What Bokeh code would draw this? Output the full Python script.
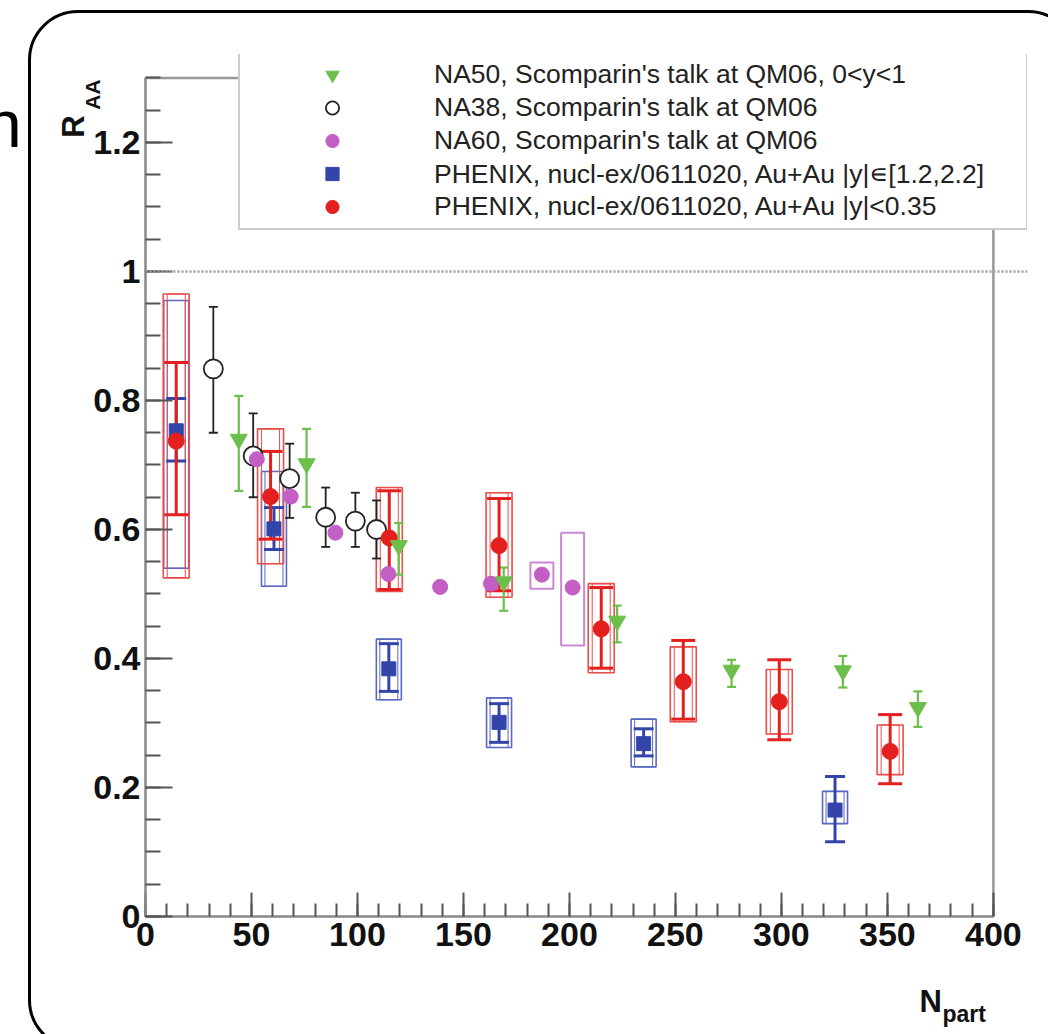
import numpy as np
from bokeh.plotting import figure
from bokeh.models import (Legend, LegendItem, Label, Span, FixedTicker,
                          InlineStyleSheet)
from bokeh.embed import file_html
from bokeh.resources import INLINE

# ---------------- data ----------------
# NA50 (green inverted triangles)
na50_n = [44, 76, 119.5, 169, 222.5, 276.5, 329, 364.4]
na50_r = [0.740, 0.702, 0.575, 0.519, 0.458, 0.382, 0.381, 0.324]
na50_lo = [0.660, 0.635, 0.530, 0.474, 0.425, 0.356, 0.355, 0.294]
na50_hi = [0.807, 0.756, 0.610, 0.541, 0.482, 0.398, 0.404, 0.349]

# NA38 (open black circles)
na38_n = [32, 50.8, 68, 85, 99, 109]
na38_r = [0.849, 0.714, 0.679, 0.619, 0.613, 0.600]
na38_lo = [0.750, 0.650, 0.618, 0.573, 0.573, 0.555]
na38_hi = [0.945, 0.780, 0.733, 0.665, 0.657, 0.645]

# NA60 (magenta circles)
na60_n = [52.5, 68.5, 89.6, 114.6, 139, 163, 187, 201.5]
na60_r = [0.709, 0.651, 0.595, 0.531, 0.511, 0.516, 0.530, 0.510]
na60_box_n = [187, 201.5]
na60_box_lo = [0.508, 0.420]
na60_box_hi = [0.549, 0.595]

# PHENIX forward rapidity (blue squares)
phf_n = [14.5, 60.6, 114.8, 166.8, 235, 325.3]
phf_r = [0.753, 0.601, 0.384, 0.301, 0.268, 0.165]
phf_lo = [0.706, 0.569, 0.349, 0.270, 0.249, 0.116]
phf_hi = [0.803, 0.634, 0.423, 0.330, 0.291, 0.217]
phf_sys_lo = [0.540, 0.512, 0.336, 0.262, 0.232, 0.144]
phf_sys_hi = [0.955, 0.690, 0.430, 0.339, 0.306, 0.194]

# PHENIX mid rapidity (red circles)
phm_n = [14.5, 59, 115, 166.8, 215, 253.7, 299, 351.3]
phm_r = [0.737, 0.651, 0.587, 0.575, 0.446, 0.364, 0.333, 0.256]
phm_lo = [0.623, 0.585, 0.507, 0.505, 0.385, 0.306, 0.274, 0.206]
phm_hi = [0.859, 0.721, 0.660, 0.648, 0.510, 0.428, 0.398, 0.313]
phm_sys_lo = [0.525, 0.547, 0.504, 0.495, 0.378, 0.302, 0.283, 0.220]
phm_sys_hi = [0.965, 0.756, 0.665, 0.657, 0.516, 0.418, 0.383, 0.297]

legend_labels = [
    "NA50, Scomparin's talk at QM06, 0<y<1",
    "NA38, Scomparin's talk at QM06",
    "NA60, Scomparin's talk at QM06",
    "PHENIX, nucl-ex/0611020, Au+Au |y|\u220a[1.2,2.2]",
    "PHENIX, nucl-ex/0611020, Au+Au |y|<0.35",
]

x_ticks = [0, 50, 100, 150, 200, 250, 300, 350, 400]
y_ticks = [0, 0.2, 0.4, 0.6, 0.8, 1.0, 1.2]
y_tick_labels = ["0", "0.2", "0.4", "0.6", "0.8", "1", "1.2"]
x_axis_span = (0, 400)      # drawn axis extent
y_axis_span = (0, 1.3)
unity = 1.0

# ---------------- style ----------------
GREEN = "#6cbf4a"
BLACK = "#222222"
MAGENTA = "#c25ec4"
MAGENTA_BOX = "#c88ad0"
BLUE = "#3345aa"
BLUE_BOX = "#5a68c0"
RED = "#e3201e"
RED_BOX = "#e8504c"
FONT = "Liberation Sans"
FRAME_GREY = "#999999"

# frame is slightly larger than the axis extent so the legend box
# (which pokes out of the ROOT frame) is not clipped
p = figure(width=1048, height=1034, x_range=(0, 416.1), y_range=(0, 1.3364),
           output_backend="svg", toolbar_location=None, title=None,
           min_border_left=145, min_border_right=21,
           min_border_top=54, min_border_bottom=118)
p.xgrid.visible = False
p.ygrid.visible = False
p.background_fill_color = "white"
p.border_fill_color = "white"
p.outline_line_color = None

p.xaxis.ticker = FixedTicker(ticks=x_ticks,
                             minor_ticks=[v for v in range(0, 401, 10)])
p.yaxis.ticker = FixedTicker(ticks=y_ticks,
                             minor_ticks=[round(0.05 * i, 2) for i in range(0, 27)])
p.yaxis.major_label_overrides = {t: l for t, l in zip(y_ticks, y_tick_labels)}
p.xaxis.bounds = x_axis_span
p.yaxis.bounds = y_axis_span
for ax in (p.xaxis, p.yaxis):
    ax.axis_line_color = "#888888"
    ax.axis_line_width = 2.5
    ax.major_tick_line_color = "#555555"
    ax.minor_tick_line_color = "#555555"
    ax.major_tick_line_width = 2
    ax.minor_tick_line_width = 2
    ax.major_tick_out = 0
    ax.minor_tick_out = 0
    ax.major_label_text_font = FONT
    ax.major_label_text_font_style = "bold"
    ax.major_label_text_font_size = "34px"
    ax.major_label_text_color = "#111111"
p.yaxis.major_tick_in = 27
p.yaxis.minor_tick_in = 15
p.xaxis.major_tick_in = 24
p.xaxis.minor_tick_in = 13
p.xaxis.major_label_standoff = 6
p.yaxis.major_label_standoff = 5

# ROOT frame: top and right edges
p.segment([x_axis_span[0], x_axis_span[1]], [y_axis_span[1], y_axis_span[0]],
          [x_axis_span[1], x_axis_span[1]], [y_axis_span[1], y_axis_span[1]],
          line_color=FRAME_GREY, line_width=2.5)

p.add_layout(Span(location=unity, dimension="width", line_color="#a0a0a0",
                  line_width=2.5, line_dash="2 2"))

# ---------------- systematic boxes ----------------
na60_mid = (np.array(na60_box_lo) + np.array(na60_box_hi)) / 2
na60_h = np.array(na60_box_hi) - np.array(na60_box_lo)
p.rect(na60_box_n, na60_mid, width=23, height=na60_h, width_units="screen",
       fill_color=None, line_color=MAGENTA_BOX, line_width=2)

phf_mid = (np.array(phf_sys_lo) + np.array(phf_sys_hi)) / 2
phf_h = np.array(phf_sys_hi) - np.array(phf_sys_lo)
p.rect(phf_n, phf_mid, width=25, height=phf_h, width_units="screen",
       fill_color=None, line_color=BLUE_BOX, line_width=1.6)
p.rect(phf_n, phf_mid, width=18, height=phf_h, width_units="screen",
       fill_color=None, line_color=BLUE_BOX, line_width=1.0)

phm_mid = (np.array(phm_sys_lo) + np.array(phm_sys_hi)) / 2
phm_h = np.array(phm_sys_hi) - np.array(phm_sys_lo)
p.rect(phm_n, phm_mid, width=26, height=phm_h, width_units="screen",
       fill_color=None, line_color=RED_BOX, line_width=1.6)
p.rect(phm_n, phm_mid, width=18, height=phm_h, width_units="screen",
       fill_color=None, line_color=RED_BOX, line_width=1.0)

# ---------------- error bars ----------------
def errbars(n, lo, hi, color, lw, cap):
    p.segment(n, lo, n, hi, line_color=color, line_width=lw)
    p.scatter(n, lo, marker="dash", size=cap, line_color=color, line_width=lw)
    p.scatter(n, hi, marker="dash", size=cap, line_color=color, line_width=lw)

errbars(na38_n, na38_lo, na38_hi, BLACK, 1.8, 9)
errbars(na50_n, na50_lo, na50_hi, GREEN, 2.2, 9)
errbars(phf_n, phf_lo, phf_hi, BLUE, 3, 20)
errbars(phm_n, phm_lo, phm_hi, RED, 3, 24)

# ---------------- markers ----------------
r_na38 = p.scatter(na38_n, na38_r, marker="circle", size=19, fill_color="white",
                   line_color=BLACK, line_width=1.8)
r_na60 = p.scatter(na60_n, na60_r, marker="circle", size=15, fill_color=MAGENTA,
                   line_color=MAGENTA)
r_phf = p.scatter(phf_n, phf_r, marker="square", size=14, fill_color=BLUE,
                  line_color=BLUE)
r_phm = p.scatter(phm_n, phm_r, marker="circle", size=16, fill_color=RED,
                  line_color=RED)
r_na50 = p.scatter(na50_n, na50_r, marker="inverted_triangle", size=17,
                   fill_color=GREEN, line_color=GREEN)

# ---------------- legend ----------------
legend = Legend(items=[LegendItem(label=legend_labels[0], renderers=[r_na50]),
                       LegendItem(label=legend_labels[1], renderers=[r_na38]),
                       LegendItem(label=legend_labels[2], renderers=[r_na60]),
                       LegendItem(label=legend_labels[3], renderers=[r_phf]),
                       LegendItem(label=legend_labels[4], renderers=[r_phm])],
                location=(93, 686), orientation="vertical",
                padding=5, spacing=0, margin=0,
                glyph_width=174, glyph_height=33, label_height=33,
                label_width=587, label_standoff=15,
                label_text_font=FONT, label_text_font_size="26.5px",
                label_text_color="#222222",
                border_line_color=FRAME_GREY, border_line_width=2.5,
                background_fill_color="white", background_fill_alpha=1.0)
p.add_layout(legend, "center")

# ---------------- axis titles (side panels, canvas coordinates) ----------------
# spread over panels so that none of them grows past its min_border
p.add_layout(Label(x=-16, y=123, x_units="canvas", y_units="canvas", text="n",
                   text_font=FONT, text_font_size="67px", text_color="black",
                   text_baseline="alphabetic", text_align="left"), "left")
p.add_layout(Label(x=73, y=126, x_units="canvas", y_units="canvas", text="R",
                   angle=np.pi / 2, text_font=FONT, text_font_style="bold",
                   text_font_size="31px", text_color="#111111",
                   text_baseline="middle", text_align="center"), "left")
p.add_layout(Label(x=92, y=94, x_units="canvas", y_units="canvas", text="AA",
                   angle=np.pi / 2, text_font=FONT, text_font_style="bold",
                   text_font_size="21px", text_color="#111111",
                   text_baseline="middle", text_align="center"), "above")
p.add_layout(Label(x=919, y=1001, x_units="canvas", y_units="canvas", text="N",
                   text_font=FONT, text_font_style="bold",
                   text_font_size="31px", text_color="#111111",
                   text_baseline="alphabetic", text_align="left"), "below")
p.add_layout(Label(x=942, y=1013, x_units="canvas", y_units="canvas", text="part",
                   text_font=FONT, text_font_style="bold",
                   text_font_size="23px", text_color="#111111",
                   text_baseline="alphabetic", text_align="left"), "below")

# slide frame with rounded corners (page decoration around the chart)
p.stylesheets = [InlineStyleSheet(css="""
:host { position: relative; overflow: hidden; }
:host::after {
  content: ""; position: absolute; left: 28px; top: 10px;
  width: 1050px; height: 1040px; box-sizing: border-box;
  border: 3px solid #000; border-radius: 50px;
  pointer-events: none; z-index: 10;
}
""")]

open("out.html", "w").write(file_html(p, INLINE))
